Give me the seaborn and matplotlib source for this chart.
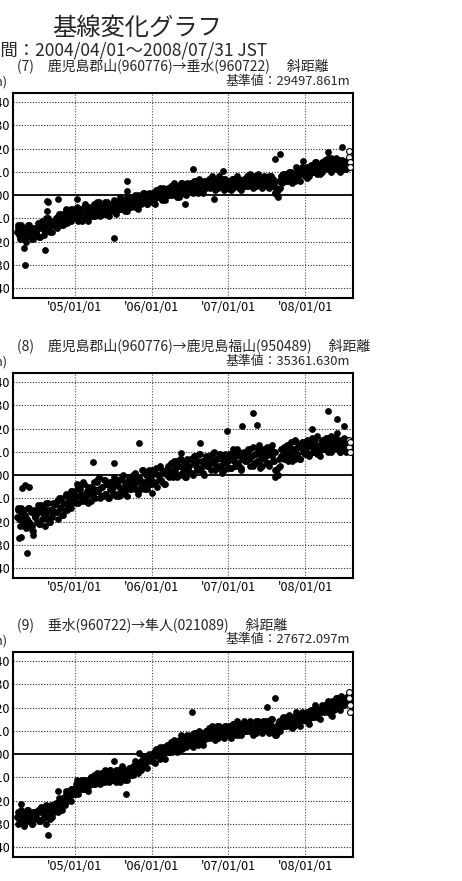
import pandas as pd
import matplotlib
matplotlib.use('Agg')
import matplotlib.pyplot as plt
import seaborn as sns

sns.set_theme(style="white")
plt.rcParams['font.family'] = ['Noto Sans CJK JP', 'DejaVu Sans']

W, H = 462, 881
START = '2004-04-01'
START_MID = '2004-04-04'

# 週ごとの値 (mm)、2004/04/01 から 7 日おき
p7_mm = [
    -16, -13, -19, -15, -18, -14, -20, -16, -13, -17, -15, -19, -14,
    -16, -12, -18, -14, -11, -17, -13, -15, -10, -14, -12, -16, -13,
    -11, -14, -9, -12, -8, -13, -10, -7, -12, -9, -11, -6, -10,
    -8, -10, -5, -9, -7, -11, -6, -4, -9, -7, -5, -9, -6,
    -6, -9, -4, -7, -3, -8, -6, -4, -8, -3, -7, -5, -6,
    -5, -2, -7, -4, -6, -1, -5, -3, -7, -4, -1, -5, -3,
    -4, -1, -5, -2, 0, -4, -2, -3, 1, -2, -4, 0, -1,
    -1, 1, -2, 0, 2, -1, 1, -1, 3, 0, 2, 1, 0,
    2, 0, 3, 1, 4, 2, -1, 3, 5, 1, 3, 2, 4,
    3, 5, 2, 4, 6, 3, 1, 5, 4, 2, 6, 3, 5,
    5, 3, 6, 4, 7, 5, 3, 6, 4, 5, 7, 3, 5,
    6, 4, 5, 7, 3, 6, 5, 4, 7, 5, 6, 4, 6,
    6, 4, 7, 5, 6, 8, 4, 6, 5, 7, 5, 6, 7,
    7, 5, 8, 6, 4, 7, 1, 3, -1, 6, 8, 5, 9,
    8, 6, 9, 7, 10, 8, 6, 9, 11, 8, 10, 9, 11, 10,
    10, 12, 9, 11, 13, 10, 12, 14, 11, 13, 12, 10, 13,
    13, 11, 14, 12, 16, 13, 12, 15, 11, 13, 15, 12,
    13, 11, 14, 12, 15,
]
p8_mm = [
    -18, -14, -22, -17, -20, -15, -23, -19, -14, -21, -16, -24, -18,
    -17, -13, -21, -16, -19, -14, -22, -17, -12, -20, -15, -18, -13,
    -16, -11, -19, -14, -10, -17, -12, -9, -15, -11, -13, -7, -10,
    -8, -12, -4, -9, -6, -11, -3, -8, -10, -5, -7, -11, -6,
    -6, -10, -3, -7, -1, -9, -5, -2, -8, -4, -10, -6, -3,
    -5, -1, -8, -4, -9, -2, -6, 0, -7, -3, -5, -1, -6,
    -4, 0, -6, -2, -8, -1, -5, 2, -3, -6, 0, -2, -4,
    -1, 2, -3, 1, -5, 0, 3, -2, 1, -4, 2, 0, -1,
    2, 5, -1, 3, 6, 0, 4, 7, 1, 3, -1, 5, 2,
    4, 7, 1, 5, 8, 2, 6, 9, 3, 5, 0, 7, 4,
    5, 8, 2, 6, 10, 3, 7, 4, 9, 1, 6, 8, 5,
    6, 9, 3, 7, 11, 4, 8, 5, 10, 2, 7, 9, 6,
    7, 11, 4, 8, 12, 5, 9, 6, 13, 3, 8, 10, 7,
    8, 12, 5, 9, 13, 6, 10, 2, 0, 7, 11, 8, 12,
    9, 13, 6, 10, 14, 8, 11, 15, 9, 12, 7, 13, 10, 14,
    11, 15, 9, 13, 16, 10, 14, 12, 17, 10, 13, 15, 11,
    13, 16, 10, 14, 17, 11, 15, 12, 18, 13, 10, 15,
    13, 16, 11, 14, 12,
]
p9_mm = [
    -27, -30, -25, -28, -26, -31, -27, -24, -29, -26, -30, -25, -28,
    -27, -24, -29, -25, -28, -23, -27, -30, -24, -26, -22, -27, -24,
    -23, -21, -25, -20, -22, -19, -21, -17, -20, -16, -18, -15, -17,
    -15, -13, -16, -12, -14, -11, -15, -13, -11, -14, -12, -10, -13,
    -11, -13, -9, -12, -10, -8, -11, -9, -12, -8, -10, -7, -10,
    -9, -11, -7, -10, -8, -12, -6, -9, -11, -7, -9, -6, -8,
    -7, -9, -5, -7, -4, -6, -3, -5, -2, -4, -1, -3, -2,
    -1, -3, 1, -1, 0, 2, -2, 1, 3, 0, 2, 4, 1,
    3, 1, 4, 2, 5, 3, 6, 4, 2, 6, 5, 7, 5,
    6, 8, 5, 7, 9, 6, 4, 8, 7, 9, 6, 10, 8,
    9, 7, 10, 8, 11, 9, 12, 8, 10, 11, 9, 12, 10,
    10, 12, 9, 11, 13, 10, 8, 11, 12, 10, 13, 11, 10,
    11, 13, 10, 12, 9, 12, 14, 11, 13, 10, 12, 14, 11,
    12, 14, 11, 13, 15, 10, 9, 8, 11, 14, 13, 15, 12,
    14, 12, 15, 13, 16, 14, 12, 15, 17, 13, 16, 14, 17, 15,
    16, 18, 15, 17, 19, 16, 18, 20, 17, 19, 18, 20, 19,
    19, 21, 20, 22, 19, 23, 21, 22, 24, 21, 23, 25,
    23, 21, 24, 22, 25,
]

# 週の途中の値 (mm)、2004/04/04 から 7 日おき
p7_mid_mm = [
    -14, -17, -13, -16, -19, -15, -18, -13, -17, -15, -19, -14, -16,
    -17, -14, -18, -12, -14, -15, -10, -15, -12, -16, -13, -11, -13,
    -10, -13, -8, -11, -13, -9, -12, -6, -10, -8, -11, -6, -8,
    -10, -7, -11, -6, -8, -9, -5, -10, -7, -11, -8, -6, -9,
    -4, -7, -3, -6, -9, -5, -8, -3, -7, -5, -9, -4, -6,
    -7, -4, -8, -3, -5, -6, -2, -6, -3, -7, -4, -2, -5,
    -2, -4, 0, -3, -6, -1, -4, 1, -3, -1, -4, 1, -1,
    -3, 0, -4, 2, 0, -1, 3, -2, 2, -2, 1, 3, 0,
    4, 1, 5, 2, -1, 3, 0, 5, 1, 3, 0, 5, 3,
    2, 5, 1, 6, 4, 3, 7, 2, 5, 1, 4, 6, 4,
    7, 4, 8, 5, 2, 6, 3, 8, 4, 6, 2, 7, 5,
    3, 6, 2, 7, 5, 4, 8, 3, 6, 2, 5, 7, 4,
    8, 5, 9, 6, 3, 7, 4, 9, 5, 7, 3, 8, 6,
    4, 7, 3, 8, 6, 5, 1, 0, 2, 3, 7, 9, 6,
    9, 6, 10, 8, 5, 9, 6, 12, 8, 10, 6, 12, 10, 8,
    9, 12, 8, 13, 11, 10, 14, 9, 13, 9, 12, 14, 12,
    15, 12, 16, 13, 10, 14, 11, 16, 12, 14, 10, 15,
    12, 14, 11, 15, 13,
]
p8_mid_mm = [
    -15, -19, -14, -18, -22, -17, -21, -14, -20, -16, -22, -15, -18,
    -20, -15, -21, -13, -16, -18, -12, -19, -15, -20, -16, -12, -16,
    -12, -16, -10, -14, -17, -12, -15, -8, -13, -9, -14, -7, -9,
    -11, -6, -12, -5, -8, -10, -4, -11, -7, -12, -8, -5, -9,
    -3, -7, -2, -6, -10, -5, -9, -2, -8, -4, -10, -3, -6,
    -8, -3, -9, -2, -5, -7, -1, -8, -4, -9, -5, -2, -6,
    -1, -5, 1, -3, -7, -2, -6, 2, -4, 0, -6, 2, -1,
    -4, 1, -4, 3, 0, -2, 4, -3, 1, -4, 1, 4, 0,
    5, 1, 6, 2, -1, 4, 0, 7, 1, 5, -1, 7, 4,
    1, 7, 0, 8, 4, 3, 9, 2, 6, 1, 5, 8, 4,
    8, 5, 9, 5, 2, 7, 3, 9, 4, 8, 2, 9, 6,
    3, 9, 3, 10, 6, 4, 11, 4, 8, 3, 7, 10, 6,
    10, 7, 11, 8, 4, 9, 5, 11, 6, 10, 4, 11, 8,
    5, 10, 4, 11, 8, 6, 2, 0, 3, 4, 8, 11, 7,
    12, 8, 13, 9, 6, 11, 7, 14, 9, 12, 7, 14, 11, 9,
    9, 13, 8, 14, 12, 10, 15, 9, 12, 8, 11, 14, 11,
    15, 12, 16, 13, 10, 14, 11, 16, 12, 14, 10, 15,
    11, 14, 10, 15, 13,
]
p9_mid_mm = [
    -25, -28, -24, -27, -30, -26, -29, -24, -28, -26, -30, -25, -27,
    -28, -25, -29, -23, -25, -26, -22, -27, -24, -28, -24, -22, -25,
    -21, -23, -19, -21, -24, -19, -22, -16, -19, -17, -20, -15, -16,
    -17, -14, -17, -12, -14, -15, -11, -15, -12, -16, -12, -10, -13,
    -9, -12, -8, -10, -13, -9, -12, -7, -11, -9, -12, -7, -9,
    -11, -8, -12, -7, -9, -10, -5, -10, -8, -11, -8, -6, -9,
    -5, -8, -3, -6, -8, -4, -7, -1, -5, -2, -6, 0, -2,
    -3, 0, -4, 2, 0, -1, 3, -1, 2, -2, 2, 4, 1,
    5, 2, 6, 4, 1, 5, 2, 8, 4, 6, 3, 8, 6,
    4, 7, 3, 9, 7, 5, 10, 5, 8, 4, 8, 10, 7,
    11, 8, 12, 9, 6, 10, 7, 12, 8, 11, 7, 12, 10,
    8, 12, 7, 13, 10, 9, 14, 8, 12, 8, 11, 14, 10,
    13, 10, 14, 11, 8, 12, 9, 14, 10, 13, 9, 14, 12,
    10, 14, 9, 15, 12, 9, 8, 9, 13, 10, 13, 16, 12,
    16, 13, 17, 14, 11, 16, 13, 18, 14, 16, 12, 18, 16, 15,
    14, 17, 13, 19, 17, 16, 21, 16, 19, 15, 18, 21, 18,
    21, 18, 23, 20, 17, 22, 19, 24, 20, 23, 19, 24,
    21, 24, 22, 25, 23,
]

# 外れ値 (日付, mm)
p7_out_dates = ['2004-05-03', '2004-05-08', '2004-08-14', '2004-08-23', '2004-08-27',
                '2004-08-20', '2004-10-11', '2005-01-10', '2005-07-06', '2005-09-07',
                '2005-09-07', '2006-07-15', '2006-12-05', '2006-10-24', '2006-06-10',
                '2007-09-01', '2007-08-12', '2008-01-10', '2008-04-16', '2008-06-26',
                '2007-12-20']
p7_out_mm = [-23, -30, -23.5, -2.5, -3, -7, -1.7, -1.7, -18.7, 6, 1.7,
             11, 10.4, -1.7, -4, 17.8, 15.6, 7.4, 18.7, 20.8, 14.8]
p8_out_dates = ['2004-05-17', '2004-04-12', '2004-04-22', '2004-06-16', '2004-06-10',
                '2004-05-09', '2004-05-28', '2004-04-25', '2005-03-26', '2005-07-05',
                '2005-11-01', '2006-01-04', '2006-08-21', '2006-05-20', '2006-12-25',
                '2007-03-06', '2007-04-30', '2007-05-16', '2007-08-11', '2008-04-19',
                '2008-06-02', '2008-07-02', '2008-01-31']
p8_out_mm = [-33.6, -27, -26.7, -25.7, -23.6, -4.3, -5, -5.7, 5.7, 5.3,
             13.9, -7.6, 13.9, 9.3, 18.9, 21, 26.9, 21.4, -0.7, 27.6,
             23.9, 21, 20]
p9_out_dates = ['2004-04-19', '2004-08-26', '2004-10-12', '2005-09-03', '2005-07-05',
                '2005-11-01', '2006-07-14', '2007-08-11', '2007-07-03', '2008-05-05',
                '2005-01-11']
p9_out_mm = [-21.4, -35, -16, -17.1, -3.1, 0.3, 18.3, 24, 20.4, 16.4, -11]

# 速報値 (白丸)
tail_dates = ['2008-07-28', '2008-07-29', '2008-07-30', '2008-07-31']
p7_tail_mm = [19, 16.5, 14, 12]
p8_tail_mm = [15, 12, 10, 14]
p9_tail_mm = [26.6, 24, 21, 18]

panels = [
    ('(7)　鹿児島郡山(960776)→垂水(960722)　 斜距離', '基準値：29497.861m',
     p7_mm, p7_mid_mm, p7_out_dates, p7_out_mm, p7_tail_mm, 93),
    ('(8)　鹿児島郡山(960776)→鹿児島福山(950489)　 斜距離', '基準値：35361.630m',
     p8_mm, p8_mid_mm, p8_out_dates, p8_out_mm, p8_tail_mm, 373),
    ('(9)　垂水(960722)→隼人(021089)　 斜距離', '基準値：27672.097m',
     p9_mm, p9_mid_mm, p9_out_dates, p9_out_mm, p9_tail_mm, 652),
]

yticks = [0.04, 0.03, 0.02, 0.01, 0.0, -0.01, -0.02, -0.03, -0.04]
xticks = pd.to_datetime(['2005-01-01', '2006-01-01', '2007-01-01', '2008-01-01'])
xlabels = ["'05/01/01", "'06/01/01", "'07/01/01", "'08/01/01"]


def fx(x):
    return x / W


def fy(y):
    return 1 - y / H


fig = plt.figure(figsize=(W / 100, H / 100), dpi=100)
fig.patch.set_facecolor('white')

fig.text(fx(137), fy(28), '基線変化グラフ', ha='center', va='center', fontsize=17.5)
fig.text(fx(267), fy(50.5), '期間：2004/04/01～2008/07/31 JST', ha='right', va='center',
         fontsize=12.5)

for title, base, vals, mids, odates, ovals, tvals, top in panels:
    ax = fig.add_axes([fx(13), fy(top + 205), 340 / W, 205 / H])
    weekly = pd.DataFrame({
        'date': pd.date_range(START, periods=len(vals), freq='7D'),
        'value': [v / 1000 for v in vals],
    })
    mid = pd.DataFrame({
        'date': pd.date_range(START_MID, periods=len(mids), freq='7D'),
        'value': [v / 1000 for v in mids],
    })
    out = pd.DataFrame({'date': pd.to_datetime(odates), 'value': [v / 1000 for v in ovals]})
    df = pd.concat([weekly, mid, out], ignore_index=True)
    tail = pd.DataFrame({'date': pd.to_datetime(tail_dates), 'value': [v / 1000 for v in tvals]})

    ax.axhline(0, color='black', linewidth=1.3, zorder=1)
    for yv in yticks:
        if yv != 0:
            ax.axhline(yv, color='#222222', linewidth=0.8, linestyle=(0, (1, 1.5)), zorder=0)
    for xv in xticks:
        ax.axvline(xv, color='#555555', linewidth=0.8, linestyle=(0, (1, 1.5)), zorder=0)

    sns.scatterplot(data=df, x='date', y='value', color='black', s=24, linewidth=0,
                    ax=ax, zorder=3, legend=False)
    sns.scatterplot(data=tail, x='date', y='value', facecolor='white', edgecolor='black',
                    s=18, linewidth=0.8, ax=ax, zorder=4, legend=False)

    ax.set_xlim(pd.Timestamp('2004-03-13'), pd.Timestamp('2008-08-15'))
    ax.set_ylim(-0.0443, 0.0439)
    ax.set_yticks(yticks)
    ax.set_yticklabels([f'{v:.3f}' for v in yticks])
    ax.set_xticks(xticks)
    ax.set_xticklabels(xlabels)
    ax.tick_params(length=0, labelsize=9, pad=2, colors='black')
    ax.set_xlabel('')
    ax.set_ylabel('')
    for sp in ax.spines.values():
        sp.set_color('black')
        sp.set_linewidth(1.5)

    fig.text(fx(17), fy(top - 27), title, ha='left', va='center', fontsize=10)
    fig.text(fx(350), fy(top - 12), base, ha='right', va='center', fontsize=9.3)
    fig.text(fx(8), fy(top - 11), '(m)', ha='right', va='center', fontsize=9)

fig.savefig('out.png', dpi=100)
